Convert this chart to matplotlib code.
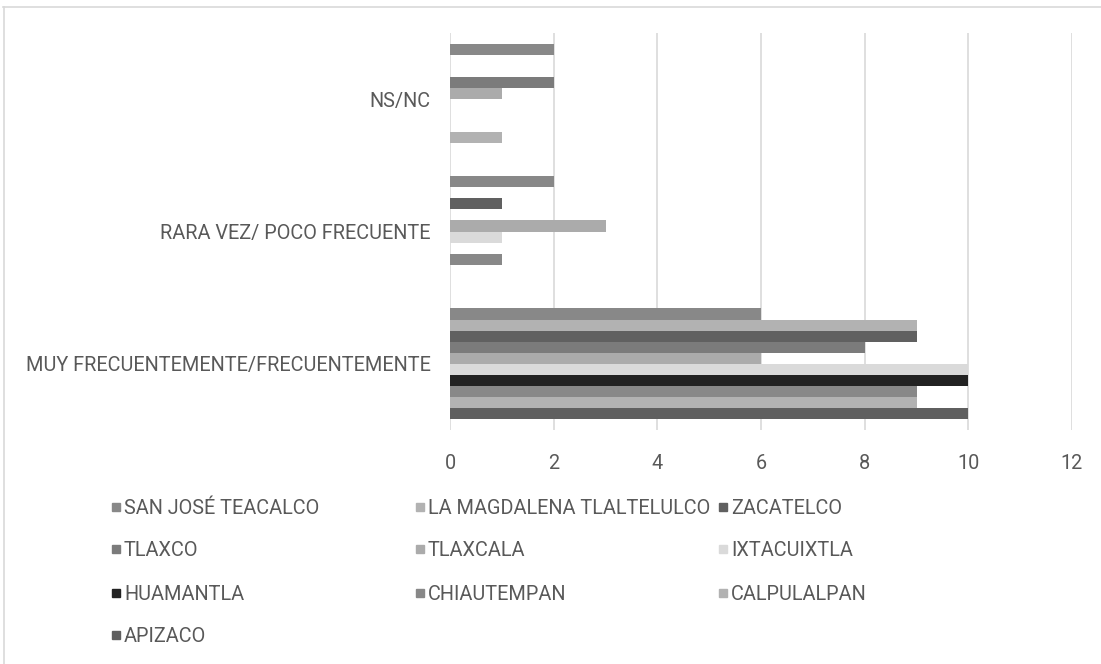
import matplotlib
matplotlib.use("Agg")
import matplotlib.pyplot as plt
from matplotlib.patches import Rectangle
from matplotlib.lines import Line2D
import numpy as np

categories = ["MUY FRECUENTEMENTE/FRECUENTEMENTE", "RARA VEZ/ POCO FRECUENTE", "NS/NC"]

municipios = ["SAN JOSÉ TEACALCO", "LA MAGDALENA TLALTELULCO", "ZACATELCO",
              "TLAXCO", "TLAXCALA", "IXTACUIXTLA",
              "HUAMANTLA", "CHIAUTEMPAN", "CALPULALPAN",
              "APIZACO"]

# values per category: [muy frecuente, rara vez, ns/nc]
san_jose = [6, 2, 2]
magdalena = [9, 0, 0]
zacatelco = [9, 1, 0]
tlaxco = [8, 0, 2]
tlaxcala = [6, 3, 1]
ixtacuixtla = [10, 1, 0]
huamantla = [10, 0, 0]
chiautempan = [9, 1, 0]
calpulalpan = [9, 0, 1]
apizaco = [10, 0, 0]

series = [san_jose, magdalena, zacatelco, tlaxco, tlaxcala,
          ixtacuixtla, huamantla, chiautempan, calpulalpan, apizaco]

colors = ["#888888", "#b2b2b2", "#606060", "#7b7b7b", "#ababab",
          "#dadada", "#222222", "#888888", "#b2b2b2", "#5f5f5f"]

txt = "#595959"
fs = 14.3
plt.rcParams['font.family'] = ['Roboto', 'DejaVu Sans']

W, H = 1101, 664
fig = plt.figure(figsize=(W / 100, H / 100), dpi=100)
ax = fig.add_axes([450 / W, 1 - 430 / H, 622 / W, 397 / H])

y = np.arange(len(categories))
h = 0.0837
n = len(series)
for i, vals in enumerate(series):
    off = ((n - 1) / 2 - i) * h
    ax.barh(y + off, vals, height=h, color=colors[i], edgecolor="none", zorder=3)

ax.set_xlim(0, 12)
ax.set_ylim(-0.5, 2.5)
ax.set_xticks(range(0, 13, 2))
ax.set_yticks(y)
ax.set_yticklabels(categories)
ax.grid(axis="x", color="#d9d9d9", linewidth=1.2, zorder=0)
for s in ax.spines.values():
    s.set_visible(False)
ax.tick_params(axis="both", length=0, labelcolor=txt, labelsize=fs)
ax.tick_params(axis="y", pad=14)
ax.tick_params(axis="x", pad=17)

# legend laid out in three equal columns
col_x = [112, 416, 719]
row_y = [507, 549, 593, 635]
for i, name in enumerate(municipios):
    r, c = divmod(i, 3)
    x0, y0 = col_x[c], row_y[r]
    fig.add_artist(Rectangle((x0 / W, 1 - (y0 + 4) / H), 8 / W, 8 / H,
                             transform=fig.transFigure, color=colors[i]))
    fig.text((x0 + 12) / W, 1 - (y0 + 1.5) / H, name, color=txt, fontsize=fs,
             va="center", ha="left")

# chart frame
fig.add_artist(Line2D([3 / W, 1], [1 - 6.5 / H, 1 - 6.5 / H],
                      transform=fig.transFigure, color="#d9d9d9", linewidth=1.2))
fig.add_artist(Line2D([3.5 / W, 3.5 / W], [0, 1 - 6.5 / H],
                      transform=fig.transFigure, color="#d9d9d9", linewidth=1.2))

fig.savefig("out.png", dpi=100)
